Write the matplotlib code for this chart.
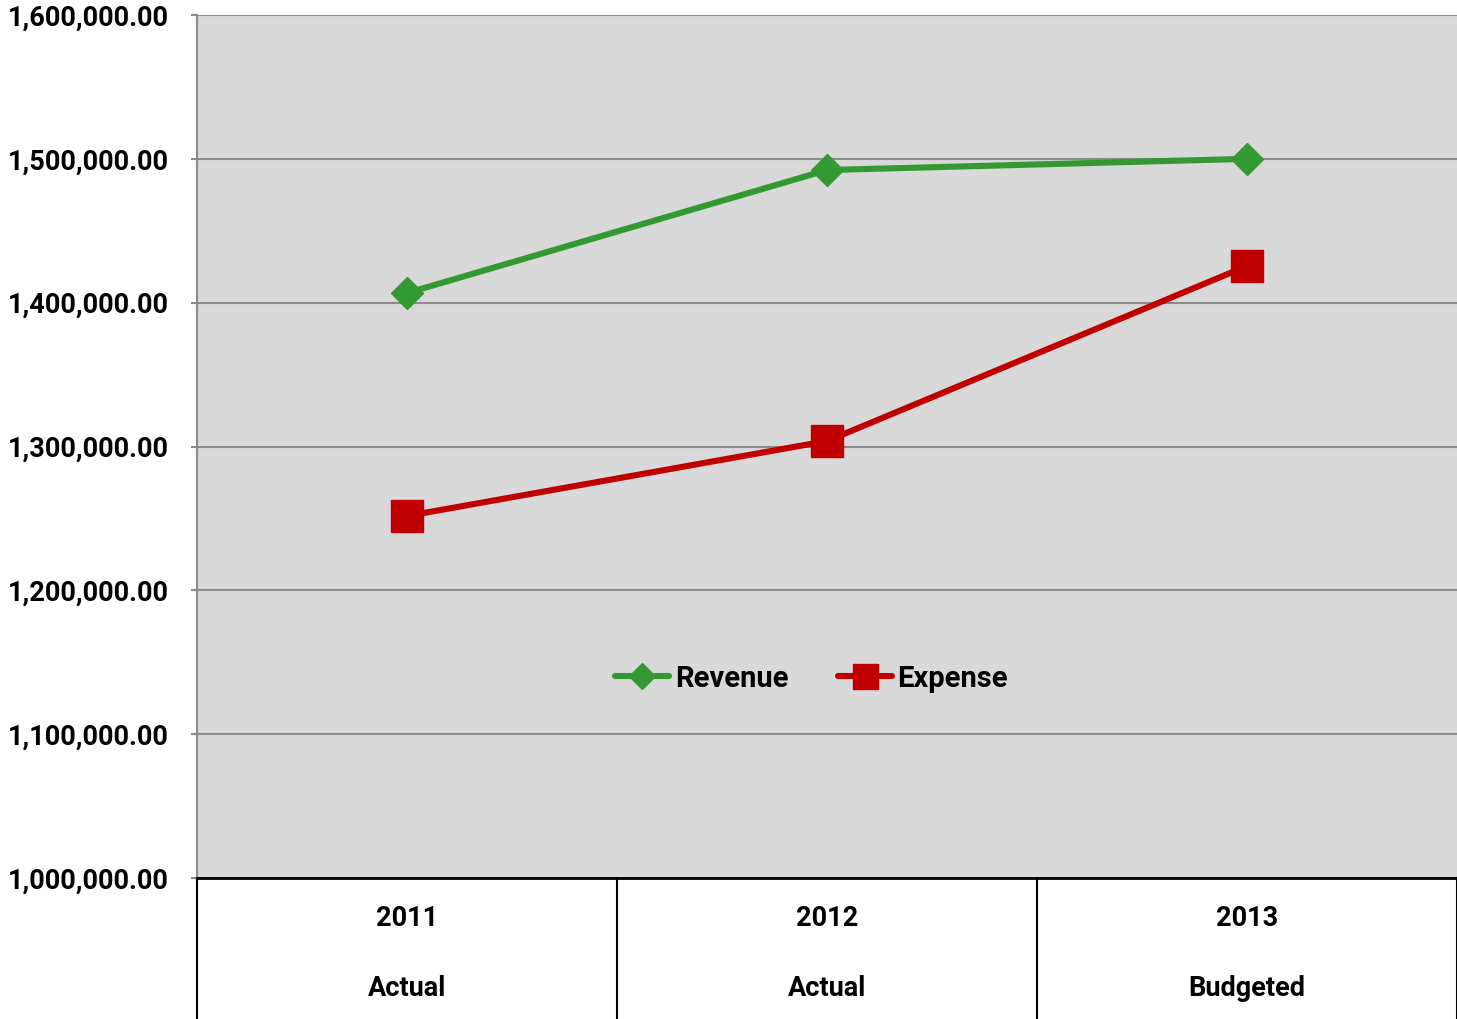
import matplotlib
matplotlib.use("Agg")
import matplotlib.pyplot as plt
import matplotlib.ticker as mticker
from matplotlib.transforms import blended_transform_factory

years = ["2011", "2012", "2013"]
kinds = ["Actual", "Actual", "Budgeted"]
revenue = [1406700, 1492200, 1500000]
expense = [1251700, 1303800, 1425500]

plt.rcParams['font.family'] = ['Roboto', 'DejaVu Sans']
WT = 'bold'
FS = 19.5

fig = plt.figure(figsize=(14.57, 10.19), dpi=100)
ax = fig.add_axes([197/1457, 141/1019, 1260/1457, 863/1019])
ax.set_facecolor('#d9d9d9')

x = list(range(len(years)))
ax.plot(x, revenue, color='#339933', lw=4.4, marker='D', ms=16.5,
        solid_capstyle='round', label='Revenue', zorder=3)
ax.plot(x, expense, color='#c00000', lw=4.4, marker='s', ms=22.5,
        solid_capstyle='round', label='Expense', zorder=3)

ax.set_xlim(-0.5, 2.5)
ax.set_ylim(1000000, 1600000)
ax.yaxis.set_major_locator(mticker.MultipleLocator(100000))
ax.yaxis.set_major_formatter(mticker.FuncFormatter(lambda v, p: "{:,.2f}".format(v)))
ax.grid(axis='y', color='#8c8c8c', lw=1.5)
ax.set_axisbelow(True)
ax.set_xticks([])
ax.tick_params(axis='y', labelsize=FS, length=4.5, width=1.5, color='#8c8c8c', pad=16)
for lab in ax.get_yticklabels():
    lab.set_fontweight(WT)

for s in ['top', 'right']:
    ax.spines[s].set_visible(False)
ax.spines['left'].set_color('#8c8c8c')
ax.spines['left'].set_linewidth(1.5)
ax.spines['bottom'].set_color('black')
ax.spines['bottom'].set_linewidth(2)

# category table below the axis
tr = blended_transform_factory(ax.transData, ax.transAxes)
for b in [-0.5, 0.5, 1.5, 2.5]:
    ax.plot([b, b], [0, -141/863], color='black', lw=1.5, transform=tr, clip_on=False)
for i in x:
    ax.text(i, -41/863, years[i], transform=tr, ha='center', va='center',
            fontsize=FS, fontweight=WT)
    ax.text(i, -111/863, kinds[i], transform=tr, ha='center', va='center',
            fontsize=FS, fontweight=WT)

leg = ax.legend(loc='center', bbox_to_anchor=(0.4877, 0.231), ncol=2, frameon=False,
                fontsize=21, markerscale=0.8, handlelength=1.85, handletextpad=0.2,
                columnspacing=1.7)
for t in leg.get_texts():
    t.set_fontweight(WT)

fig.savefig("out.png", dpi=100)
